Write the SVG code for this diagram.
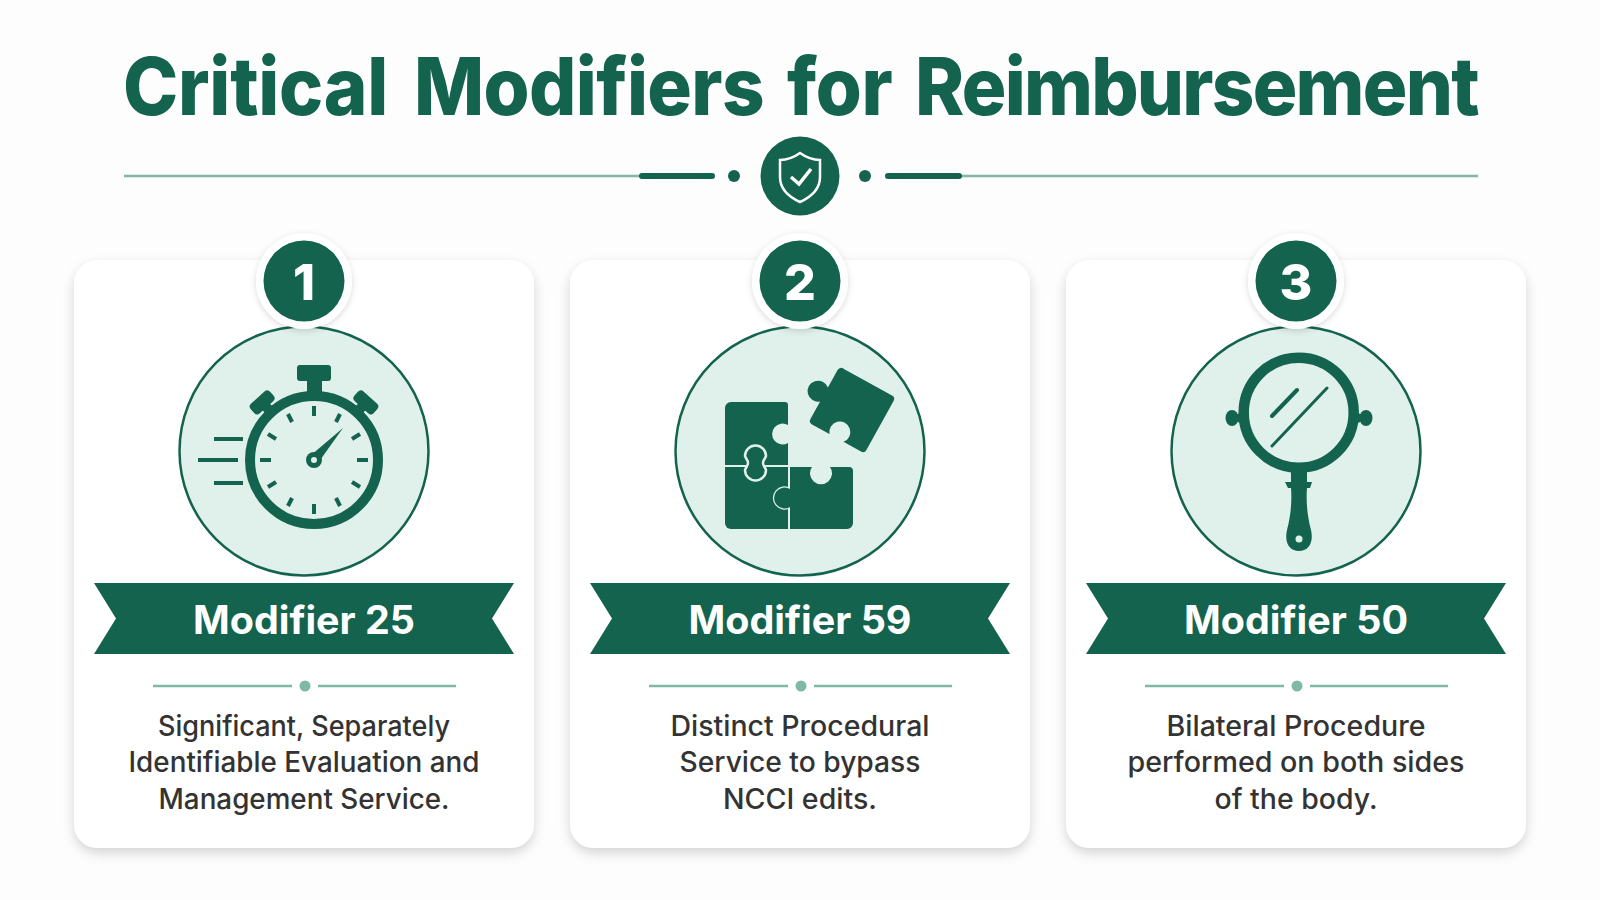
<svg xmlns="http://www.w3.org/2000/svg" width="1600" height="900" viewBox="0 0 1600 900">
<style>
text{font-variant-ligatures:none}
.title{font:800 80px Inter,"Liberation Sans",sans-serif;fill:#14634e}
.num{font:800 50px Inter,"Liberation Sans",sans-serif;fill:#fff;text-anchor:middle}
.mod{font:700 39px Inter,"Liberation Sans",sans-serif;fill:#fff;text-anchor:middle}
.body{font:500 28px Inter,"Liberation Sans",sans-serif;fill:#333;text-anchor:middle}
.g{fill:#14634e}.thin{stroke:#7fb8a4;stroke-width:2.5;fill:none}
.dot{fill:#7fb8a4}
.tick{stroke:#14634e;stroke-width:4;fill:none}
.disc{fill:#e0f0ea;stroke:#14634e;stroke-width:2.5}
.card{fill:#fff;filter:url(#sh)}
.halo{fill:#fff;filter:url(#sh2)}
</style>
<defs>
<filter id="sh" x="-10%" y="-10%" width="120%" height="120%"><feDropShadow dx="0" dy="5" stdDeviation="6" flood-color="#000" flood-opacity=".16"/></filter>
<filter id="sh2" x="-30%" y="-30%" width="160%" height="160%"><feDropShadow dx="0" dy="2" stdDeviation="3" flood-color="#000" flood-opacity=".15"/></filter>
<path id="ribbon" d="M-210 583H210L188 618.500L210 654H-210L-188 618.500Z"/>
<g id="rule"><path class="thin" d="M-151 686H-12M14 686H152"/><circle class="dot" cx="1" cy="686" r="5.500"/></g>
</defs>
<rect width="1600" height="900" fill="#fdfdfd"/>
<g id="header">
<text class="title" y="115" transform="scale(.93 1)"><tspan x="132.300" letter-spacing="-.3">Critical</tspan> <tspan x="445.200" letter-spacing="-.7">Modifiers</tspan> <tspan x="846.200" letter-spacing="-.3">for</tspan> <tspan x="983.900" letter-spacing="-1.900">Reimbursement</tspan></text>
<path d="M124 176H642M958 176H1478" stroke="#7fb8a4" stroke-width="2.500" fill="none"/>
<path d="M642 176H712M888 176H959" stroke="#14634e" stroke-width="6" stroke-linecap="round" fill="none"/>
<circle class="g" cx="734" cy="176" r="6"/><circle class="g" cx="865" cy="176" r="6"/>
<circle class="g" cx="800" cy="176" r="39.500"/>
<path d="M800 153C793 158 787 160 780 160V177C780 189 789 197 800 202C811 197 820 189 820 177V160C813 160 807 158 800 153Z" fill="none" stroke="#fff" stroke-width="2.500"/>
<path d="M791 177L799 184L811 169" fill="none" stroke="#fff" stroke-width="3.500"/>
</g>
<g id="card-1">
<rect class="card" x="74" y="260" width="460" height="588" rx="24"/>
<circle class="disc" cx="304" cy="451" r="124.500"/>
<circle class="halo" cx="304" cy="281" r="48"/><circle class="g" cx="304" cy="281" r="40.500"/>
<text class="num" x="304" y="300">1</text>
<g id="stopwatch">
<circle cx="314" cy="460" r="64" fill="none" stroke="#14634e" stroke-width="10"/>
<rect class="g" x="297" y="365" width="34" height="16" rx="3"/><rect class="g" x="307" y="378" width="15" height="18"/>
<g class="g"><g transform="rotate(-42 314 460)"><rect x="301" y="376" width="26" height="13" rx="4"/><rect x="309" y="385" width="10" height="12"/></g><g transform="rotate(42 314 460)"><rect x="301" y="376" width="26" height="13" rx="4"/><rect x="309" y="385" width="10" height="12"/></g></g>
<g class="tick">
<path d="M314 406V416"/><path d="M314 504V514"/><path d="M260 460H271"/><path d="M357 460H368"/>
<path d="M288 414L292 422"/><path d="M340 414L336 422"/><path d="M268 434L276 439"/><path d="M360 434L352 439"/><path d="M268 487L276 482"/><path d="M360 487L352 482"/><path d="M288 506L292 498"/><path d="M340 506L336 498"/>
</g>
<path class="g" d="M343 428L318 463L310 456Z"/>
<circle class="g" cx="314" cy="460" r="8"/><circle cx="314" cy="460" r="3" fill="#e0f0ea"/>
<path d="M214 439H243M198 460H238M214 483H243" stroke="#14634e" stroke-width="4" fill="none"/>
</g>
<use href="#ribbon" x="304" class="g"/>
<text class="mod" x="304" y="634" textLength="222" lengthAdjust="spacingAndGlyphs">Modifier 25</text>
<use href="#rule" x="304"/>
<text class="body" x="304" y="736" textLength="292" lengthAdjust="spacingAndGlyphs">Significant, Separately</text>
<text class="body" x="304" y="772" textLength="351" lengthAdjust="spacingAndGlyphs">Identifiable Evaluation and</text>
<text class="body" x="304" y="809" textLength="291" lengthAdjust="spacingAndGlyphs">Management Service.</text>
</g>
<g id="card-2">
<rect class="card" x="570" y="260" width="460" height="588" rx="24"/>
<circle class="disc" cx="800" cy="451" r="124.500"/>
<circle class="halo" cx="800" cy="281" r="48"/><circle class="g" cx="800" cy="281" r="40.500"/>
<text class="num" x="800" y="300">2</text>
<g id="puzzle" class="g">
<path d="M731 402H785a3 3 0 0 1 3 3V425A10.500 10.500 0 1 0 788 443V465H725V408a6 6 0 0 1 6-6Z"/>
<path d="M725 467H788V529H731a6 6 0 0 1-6-6Z"/>
<path d="M790 467H812A11 11 0 1 0 830 467H849a4 4 0 0 1 4 4V523a6 6 0 0 1-6 6H790V507A10.500 10.500 0 1 1 790 489Z" stroke="#e0f0ea" stroke-width="2.500" style="paint-order:stroke"/>
<path d="M745 456a10 10 0 1 1 21 0c-1 3-3 4-3 7c0 3 2 4 3 7a10 10 0 1 1-21 0c1-3 3-4 3-7c0-3-2-4-3-7Z" stroke="#e0f0ea" stroke-width="2.500"/>
<path transform="translate(852 410) rotate(29)" d="M-27-32H28a4 4 0 0 1 4 4V28a4 4 0 0 1-4 4H8A10.500 10.500 0 1 0-8 32H-28a4 4 0 0 1-4-4V8A10.500 10.500 0 1 1-32-8V-28a4 4 0 0 1 5-4Z"/>
</g>
<use href="#ribbon" x="800" class="g"/>
<text class="mod" x="800" y="634" textLength="223" lengthAdjust="spacingAndGlyphs">Modifier 59</text>
<use href="#rule" x="800"/>
<text class="body" x="800" y="736" textLength="259" lengthAdjust="spacingAndGlyphs">Distinct Procedural</text>
<text class="body" x="800" y="772" textLength="241" lengthAdjust="spacingAndGlyphs">Service to bypass</text>
<text class="body" x="800" y="809" textLength="154" lengthAdjust="spacingAndGlyphs">NCCI edits.</text>
</g>
<g id="card-3">
<rect class="card" x="1066" y="260" width="460" height="588" rx="24"/>
<circle class="disc" cx="1296" cy="451" r="124.500"/>
<circle class="halo" cx="1296" cy="281" r="48"/><circle class="g" cx="1296" cy="281" r="40.500"/>
<text class="num" x="1296" y="300">3</text>
<g id="mirror">
<circle cx="1298.700" cy="412.700" r="55" fill="none" stroke="#14634e" stroke-width="10.500"/>
<g class="g"><ellipse cx="1232" cy="418" rx="6.500" ry="8"/><ellipse cx="1366" cy="418" rx="6.500" ry="8"/><path d="M1235 415L1246 411V425L1235 421Z"/><path d="M1363 415L1352 411V425L1363 421Z"/>
<rect x="1291" y="468" width="16" height="16"/>
<path d="M1285 482H1312L1310 488H1307C1306 500 1307 515 1311 530C1314 543 1308 551 1299 551C1290 551 1284 543 1287 530C1291 515 1292 500 1291 488H1288Z"/></g>
<circle cx="1299" cy="539" r="3.500" fill="#e0f0ea"/>
<path d="M1272 416L1297 390" stroke="#14634e" stroke-width="4" stroke-linecap="round"/>
<path d="M1272 446L1327 388" stroke="#14634e" stroke-width="3" stroke-linecap="round"/>
</g>
<use href="#ribbon" x="1296" class="g"/>
<text class="mod" x="1296" y="634" textLength="224" lengthAdjust="spacingAndGlyphs">Modifier 50</text>
<use href="#rule" x="1296"/>
<text class="body" x="1296" y="736" textLength="259" lengthAdjust="spacingAndGlyphs">Bilateral Procedure</text>
<text class="body" x="1296" y="772" textLength="337" lengthAdjust="spacingAndGlyphs">performed on both sides</text>
<text class="body" x="1296" y="809" textLength="163" lengthAdjust="spacingAndGlyphs">of the body.</text>
</g>
</svg>
